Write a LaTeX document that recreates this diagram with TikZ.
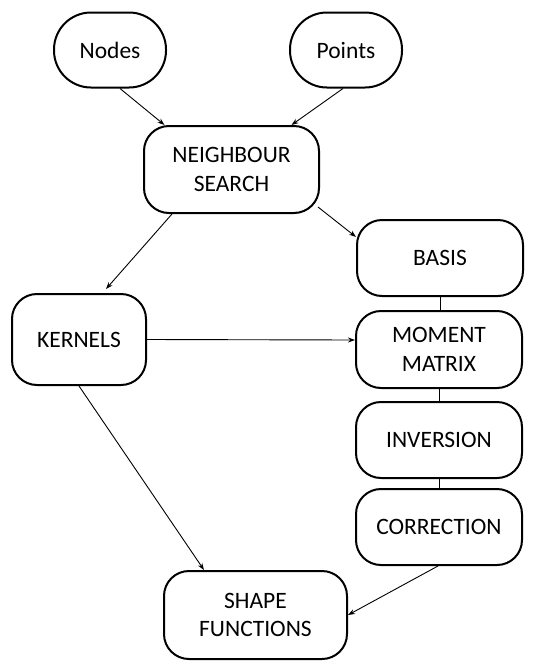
\documentclass[tikz,border=0pt]{standalone}
\usepackage{fontspec}
\setmainfont{Carlito}
\usetikzlibrary{arrows.meta}
\begin{document}
\begin{tikzpicture}[x=1pt,y=-1pt,
  box/.style={draw=black, line width=2pt, rounded corners=25pt, align=center,
    inner sep=0pt, font=\fontsize{23.5}{28.5}\selectfont, text=black},
  oval/.style={box, rounded corners=37pt, minimum width=112pt, minimum height=75pt},
  arr/.style={line width=0.9pt, -{Stealth[length=7pt,width=5pt]}},
  link/.style={line width=0.9pt}]
\useasboundingbox (0,0) rectangle (536,662);
\node[oval] (nodes) at (110,50) {Nodes};
\node[oval] (points) at (346,50) {Points};
\node[box, minimum width=175pt, minimum height=87pt] (ns) at (231.5,169.5) {NEIGHBOUR\\SEARCH};
\node[box, minimum width=166pt, minimum height=76pt] (basis) at (440,258) {BASIS};
\node[box, minimum width=166pt, minimum height=77pt] (moment) at (439,349.5) {MOMENT\\MATRIX};
\node[box, minimum width=166pt, minimum height=76pt] (inversion) at (439,440) {INVERSION};
\node[box, minimum width=166pt, minimum height=76pt] (correction) at (439,527) {CORRECTION};
\node[box, minimum width=134pt, minimum height=91pt] (kernels) at (79,339.5) {KERNELS};
\node[box, minimum width=183pt, minimum height=88pt] (shape) at (255.5,615) {SHAPE\\FUNCTIONS};
\draw[arr] ([xshift=10pt]nodes.south) -- ([xshift=-67pt]ns.north);
\draw[arr] ([xshift=-3pt]points.south) -- ([xshift=60pt]ns.north);
\draw[arr] ([xshift=-2pt,yshift=7pt]ns.south east) -- ([yshift=21pt]basis.west);
\draw[arr] ([xshift=-59.5pt]ns.south) -- ([xshift=27pt,yshift=4pt]kernels.north);
\draw[arr] (kernels.east) -- ([yshift=9.5pt]moment.west);
\draw[link] (basis.south) -- ([xshift=1pt]moment.north);
\draw[link] (moment.south) -- (inversion.north);
\draw[link] (inversion.south) -- (correction.north);
\draw[arr] (kernels.south) -- ([xshift=-51.5pt]shape.north);
\draw[arr] ([xshift=-1pt]correction.south) -- (shape.east);
\end{tikzpicture}
\end{document}
